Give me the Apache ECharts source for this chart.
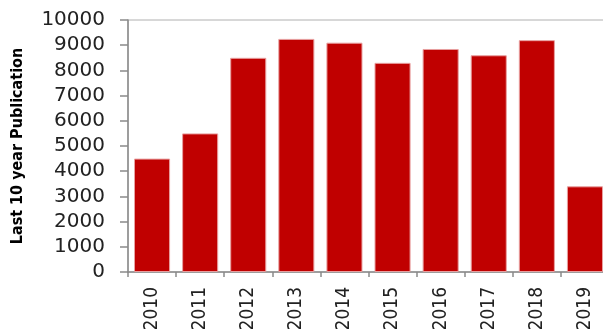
<!DOCTYPE html>
<html><head><meta charset="utf-8">
<script src="https://cdn.jsdelivr.net/npm/echarts@6/dist/echarts.min.js"></script>
<style>html,body{margin:0;padding:0;background:#fff}#c{width:603px;height:329px}</style>
</head><body><div id="c"></div>
<script>
const categories = ['2010','2011','2012','2013','2014','2015','2016','2017','2018','2019'];
const publications = [4500, 5500, 8500, 9250, 9100, 8300, 8850, 8600, 9200, 3400];
const yTitle = 'Last 10 year Publication';

const chart = echarts.init(document.getElementById('c'), null, {renderer: 'canvas'});
chart.setOption({
  animation: false,
  grid: {left: 128, top: 20, width: 481, height: 252, containLabel: false, outerBoundsMode: 'none',
         show: true, borderColor: '#b0b0b0', borderWidth: 1, backgroundColor: 'transparent'},
  xAxis: {
    type: 'category', data: categories,
    axisLine: {lineStyle: {color: '#8a8a8a', width: 1.5}},
    axisTick: {show: true, length: 5, alignWithLabel: false, lineStyle: {color: '#8a8a8a', width: 1.5}},
    axisLabel: {rotate: 90, margin: 15, fontFamily: 'DejaVu Sans Condensed', fontSize: 19, color: '#222'}
  },
  yAxis: {
    type: 'value', min: 0, max: 10000, interval: 1000,
    name: yTitle, nameLocation: 'middle', nameGap: 102,
    nameTextStyle: {fontFamily: 'DejaVu Sans Condensed', fontSize: 16, fontWeight: 'bold', color: '#000'},
    axisLine: {show: true, lineStyle: {color: '#8a8a8a', width: 1.5}},
    axisTick: {show: true, length: 8, lineStyle: {color: '#8a8a8a', width: 1.5}},
    splitLine: {show: false},
    axisLabel: {margin: 23, fontFamily: 'DejaVu Sans', fontSize: 20, color: '#222', formatter: v => String(v)}
  },
  series: [{
    type: 'bar', data: publications, barCategoryGap: '25%',
    itemStyle: {color: '#c00000', borderColor: '#e8a0a0', borderWidth: 1}
  }]
});
</script></body></html>
